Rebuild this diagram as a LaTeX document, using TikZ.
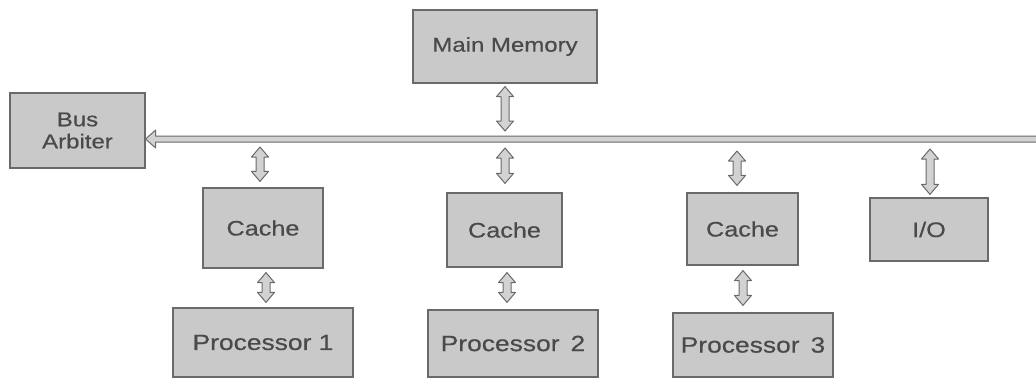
\documentclass[tikz,border=0pt]{standalone}
\usepackage{fontspec}
\setmainfont{Liberation Sans}[FakeStretch=1.2,FakeBold=0.5]
\usetikzlibrary{calc}
\definecolor{boxfill}{HTML}{C9C9C9}
\definecolor{boxline}{HTML}{6A6A6A}
\definecolor{txt}{HTML}{4A4A4A}
\definecolor{arrfill}{HTML}{D2D2D2}
\tikzset{
  unit/.style={draw=boxline, line width=1.2pt, fill=boxfill, text=txt, inner sep=0pt, align=center},
  fat/.style={draw=boxline, line width=1pt, fill=arrfill, line join=round,
    to path={let \p1=(\tikztostart), \p2=(\tikztotarget) in
      (\x1,\y1) -- (\x1+8.5pt,\y1-10pt) -- (\x1+4pt,\y1-10pt) -- (\x1+4pt,\y2+10pt)
      -- (\x1+8.5pt,\y2+10pt) -- (\x1,\y2) -- (\x1-8.5pt,\y2+10pt) -- (\x1-4pt,\y2+10pt)
      -- (\x1-4pt,\y1-10pt) -- (\x1-8.5pt,\y1-10pt) -- cycle}},
  busline/.style={draw=boxline, line width=1pt, fill=arrfill, line join=round,
    to path={let \p1=(\tikztostart), \p2=(\tikztotarget) in
      (\x1,\y1) -- (\x1+10pt,\y1+9pt) -- (\x1+10pt,\y1+3pt) -- (\x2,\y1+3pt)
      -- (\x2,\y1-3pt) -- (\x1+10pt,\y1-3pt) -- (\x1+10pt,\y1-9pt) -- cycle}},
}
\newcommand{\fs}[1]{\fontsize{#1}{#1}\selectfont}
\begin{document}
\begin{tikzpicture}[x=1pt,y=-1pt]
\useasboundingbox (0,0) rectangle (1036,378);
% boxes
\node[unit, minimum width=184pt, minimum height=73pt, font=\fs{20}] (mem) at (505,46.5) {Main Memory};
\node[unit, minimum width=135pt, minimum height=75pt, font=\fs{20}] (arb) at (77.5,130.5) {Bus\\[2pt]Arbiter};
\node[unit, minimum width=120pt, minimum height=80pt, font=\fs{21}] (c1) at (263,228) {Cache};
\node[unit, minimum width=115pt, minimum height=74pt, font=\fs{21}] (c2) at (504.5,230) {Cache};
\node[unit, minimum width=111pt, minimum height=72pt, font=\fs{21}] (c3) at (742.5,229) {Cache};
\node[unit, minimum width=118pt, minimum height=63pt, font=\fs{21}] (io) at (929,229.5) {I/O};
\node[unit, minimum width=180pt, minimum height=69pt, font=\fs{22}] (p1) at (263,342.5) {Processor 1};
\node[unit, minimum width=170pt, minimum height=67pt, font=\fs{22}] (p2) at (513,343.5) {Processor~\,2};
\node[unit, minimum width=160pt, minimum height=64pt, font=\fs{22}] (p3) at (753,345) {Processor~\,3};
% bus
\coordinate (busend) at (1045,139);
\draw[busline] (arb.east |- busend) to (busend);
\coordinate (bm) at (505,139);
\coordinate (b1) at (260,139);
\coordinate (b2) at (505,139);
\coordinate (b3) at (737,139);
\coordinate (b4) at (930,139);
% arrows: memory / bus / units
\draw[fat] ($(bm |- mem.south)+(0,3)$) to ($(bm)+(0,-8)$);
\draw[fat] ($(b1)+(0,8)$) to ($(b1 |- c1.north)+(0,-6)$);
\draw[fat] ($(b2)+(0,9)$) to ($(b2 |- c2.north)+(0,-9)$);
\draw[fat] ($(b3)+(0,12)$) to ($(b3 |- c3.north)+(0,-7)$);
\draw[fat] ($(b4)+(0,10)$) to ($(b4 |- io.north)+(0,-3)$);
% arrows: cache / processor
\coordinate (d1) at (266,0);
\coordinate (d2) at (507,0);
\coordinate (d3) at (743,0);
\draw[fat] ($(d1 |- c1.south)+(0,4)$) to ($(d1 |- p1.north)+(0,-5)$);
\draw[fat] ($(d2 |- c2.south)+(0,5)$) to ($(d2 |- p2.north)+(0,-7)$);
\draw[fat] ($(d3 |- c3.south)+(0,5)$) to ($(d3 |- p3.north)+(0,-7)$);
\end{tikzpicture}
\end{document}
